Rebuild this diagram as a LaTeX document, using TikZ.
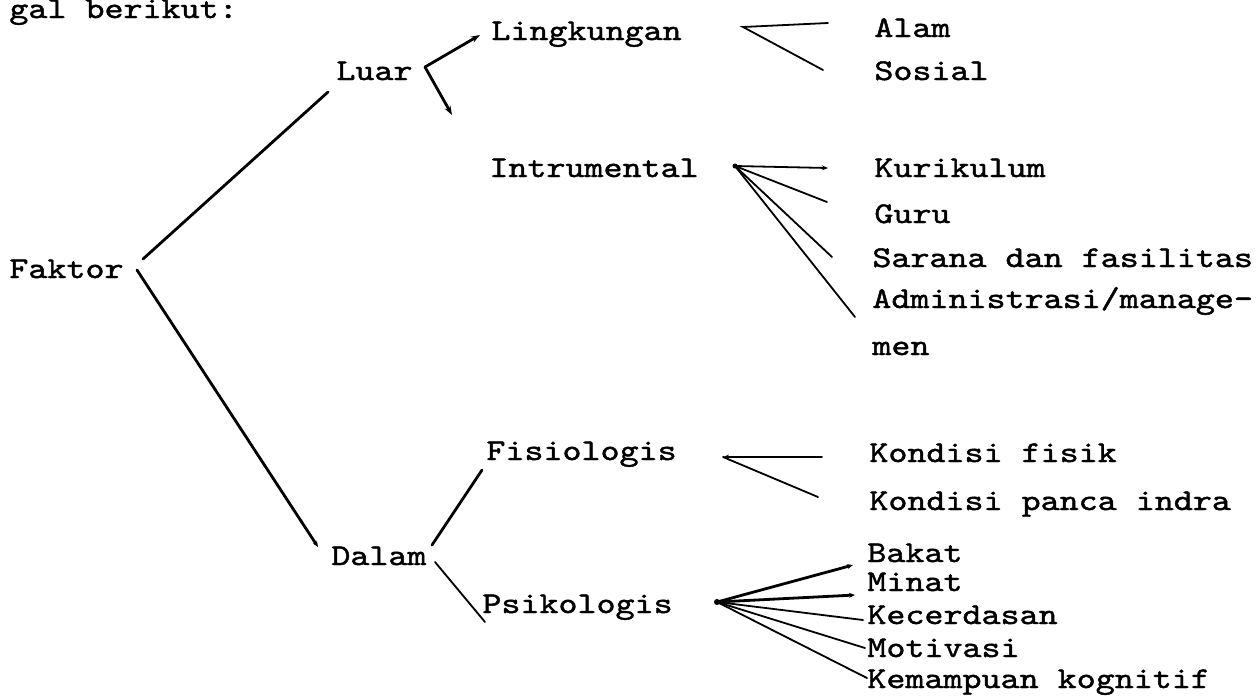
\documentclass[tikz,border=0pt]{standalone}
\usepackage{fontspec}
\newfontfamily\tw[FakeStretch=1.2,FakeBold=1.4]{lmmono10-regular.otf}
\usetikzlibrary{arrows.meta}
\begin{document}
\begin{tikzpicture}[x=0.5pt,y=-0.5pt,
  lbl/.style={anchor=base west,inner sep=0pt,font=\tw\fontsize{15.1pt}{18pt}\selectfont},
  link/.style={line width=1.4pt,line cap=round},
  fan/.style={line width=0.9pt,line cap=round},
  bigtip/.style={-{Stealth[length=4.5pt,width=3.2pt]}},
  smalltip/.style={-{Stealth[length=3pt,width=2.4pt]}}]
\useasboundingbox[fill=white] (0,0) rectangle (1256,697);

% texts
\node[lbl] (gal)    at (9,18)   {gal berikut:};
\node[lbl] (faktor) at (9,278)  {Faktor};
\node[lbl] (luar)   at (336,80) {Luar};
\node[lbl] (dalam)  at (331,565) {Dalam};
\node[lbl] (ling)   at (491,40) {Lingkungan};
\node[lbl] (intr)   at (489,177) {Intrumental};
\node[lbl] (fisio)  at (486,460) {Fisiologis};
\node[lbl] (psiko)  at (482,613) {Psikologis};
\node[lbl] (alam)   at (874,37)  {Alam};
\node[lbl] (sosial) at (874,80)  {Sosial};
\node[lbl] (kuri)   at (874,177) {Kurikulum};
\node[lbl] (guru)   at (874,223) {Guru};
\node[lbl] (sarana) at (872,267) {Sarana dan fasilitas};
\node[lbl] (admin)  at (872,308) {Administrasi/manage-};
\node[lbl] (men)    at (872,355) {men};
\node[lbl] (kfisik) at (869,462) {Kondisi fisik};
\node[lbl] (kpanca) at (869,510) {Kondisi panca indra};
\node[lbl] (bakat)  at (867,562) {Bakat};
\node[lbl] (minat)  at (867,591) {Minat};
\node[lbl] (kecer)  at (867,624) {Kecerdasan};
\node[lbl] (motiv)  at (867,657) {Motivasi};
\node[lbl] (kemam)  at (867,688) {Kemampuan kognitif};

% connector end points
\coordinate (fa1) at (143,259); \coordinate (luarIn) at (328,92);
\coordinate (fa2) at (137,270); \coordinate (dalamIn) at (318,547);
\coordinate (lv) at (425,67); \coordinate (lingIn) at (480,35); \coordinate (intrIn) at (452,115);
\coordinate (lnv) at (743,27); \coordinate (alamIn) at (828,23); \coordinate (sosialIn) at (823,70);
\coordinate (iv) at (735,166); \coordinate (kuriIn) at (828,168); \coordinate (guruIn) at (827,202);
\coordinate (saranaIn) at (832,257); \coordinate (adminIn) at (855,317);
\coordinate (dv1) at (432,545); \coordinate (fisioIn) at (482,470);
\coordinate (dv2) at (435,562); \coordinate (psikoIn) at (485,622);
\coordinate (fv) at (723,457); \coordinate (kfisikIn) at (822,457); \coordinate (kpancaIn) at (818,497);
\coordinate (pv) at (717,602);
\coordinate (bakatIn) at (853,565); \coordinate (minatIn) at (855,595);
\coordinate (kecerIn) at (863,620); \coordinate (motivIn) at (865,648); \coordinate (kemamIn) at (867,678);

% connectors
\draw[link] (fa1) -- (luarIn);
\draw[link,smalltip] (fa2) -- (dalamIn);
\draw[link,bigtip] (lv) -- (lingIn);
\draw[link,bigtip] (lv) -- (intrIn);
\draw[fan] (alamIn) -- (lnv) -- (sosialIn);
\draw[fan,smalltip] (iv) -- (kuriIn);
\draw[fan] (iv) -- (guruIn);
\draw[fan] (iv) -- (saranaIn);
\draw[fan] (iv) -- (adminIn);
\draw[link] (dv1) -- (fisioIn);
\draw[fan] (dv2) -- (psikoIn);
\draw[fan,smalltip] (kfisikIn) -- (fv);
\draw[fan] (fv) -- (kpancaIn);
\draw[link,smalltip] (pv) -- (bakatIn);
\draw[link,smalltip] (pv) -- (minatIn);
\draw[fan] (pv) -- (kecerIn);
\draw[fan] (pv) -- (motivIn);
\draw[fan] (pv) -- (kemamIn);
\fill (pv) circle (3);
\fill (iv) circle (2.5);
\end{tikzpicture}
\end{document}
